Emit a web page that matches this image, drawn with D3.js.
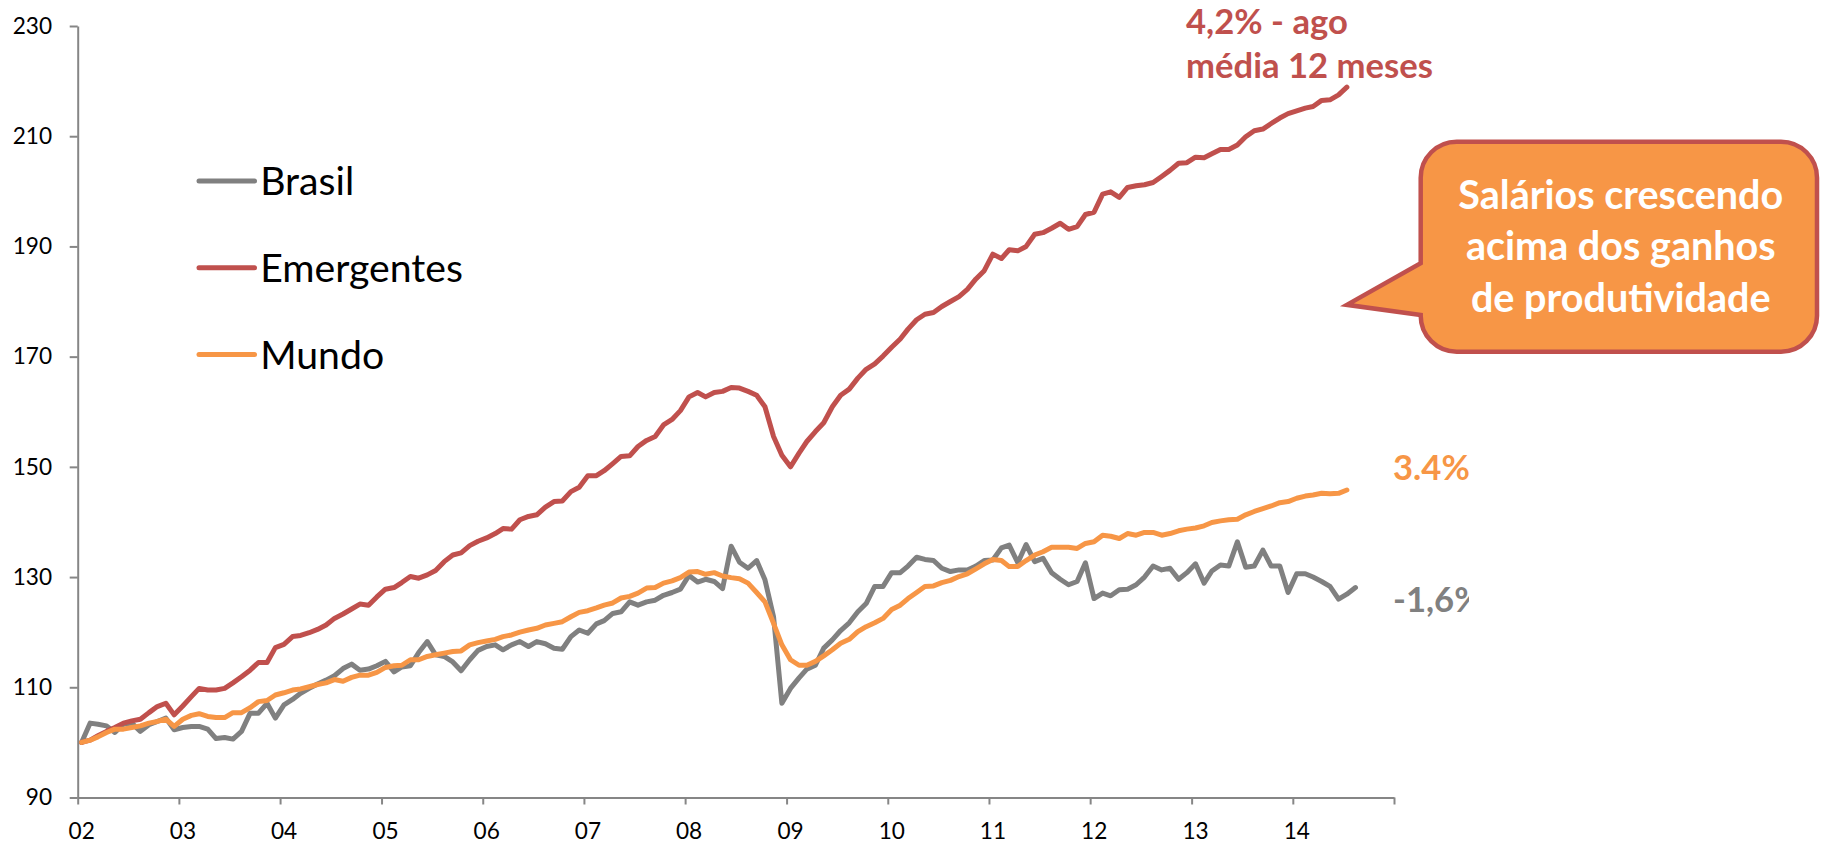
<!DOCTYPE html>
<html><head><meta charset="utf-8">
<script src="https://cdn.jsdelivr.net/npm/d3@7"></script>
<style>
html,body{margin:0;padding:0;background:#fff;}
svg{display:block;font-family:Lato,'Open Sans',sans-serif;}
</style>
</head><body>
<svg id="chart" width="1821" height="846"></svg>
<script>
// ---------------- DATA ----------------
const yearTicks = [2002,2003,2004,2005,2006,2007,2008,2009,2010,2011,2012,2013,2014,2015];
const yTicks = [90,110,130,150,170,190,210,230];
const seriesNames = ["Brasil","Emergentes","Mundo"];
// monthly index values, starting Jan 2002
const brasil = [100.0,103.5,103.3,103.0,101.8,103.3,103.5,102.0,103.2,103.8,104.4,102.3,
102.7,102.9,102.9,102.4,100.7,100.9,100.6,102.0,105.3,105.3,107.1,104.4,
106.8,107.8,108.9,109.8,110.6,111.3,112.1,113.4,114.2,113.1,113.3,113.9,
114.7,112.8,113.7,113.9,116.3,118.3,115.9,115.6,114.6,113.0,115.0,116.7,
117.4,117.7,116.8,117.7,118.3,117.4,118.3,117.9,117.1,116.9,119.2,120.4,
119.8,121.5,122.1,123.4,123.7,125.5,124.9,125.5,125.8,126.7,127.2,127.8,
130.3,129.1,129.6,129.2,127.9,135.6,132.7,131.6,133.0,129.5,122.8,107.1,
109.8,111.7,113.3,114.0,117.1,118.6,120.3,121.7,123.7,125.2,128.3,128.3,
130.8,130.8,132.0,133.6,133.2,133.0,131.6,131.0,131.3,131.3,132.0,133.0,
133.1,135.3,135.8,132.6,135.9,132.8,133.4,130.8,129.6,128.6,129.2,132.6,
126.1,127.1,126.6,127.7,127.8,128.6,130.0,132.0,131.3,131.6,129.6,130.8,
132.4,128.9,131.1,132.2,132.0,136.4,131.8,132.0,134.9,132.0,132.0,127.2,
130.6,130.6,130.0,129.2,128.3,126.0,126.9,128.1];
const emergentes = [100.0,100.4,101.2,102.0,102.7,103.5,103.9,104.2,105.4,106.5,107.1,105.0,
106.6,108.3,109.8,109.5,109.5,109.8,110.8,111.9,113.1,114.5,114.5,117.2,
117.8,119.2,119.4,119.9,120.5,121.3,122.5,123.3,124.2,125.1,124.9,126.4,
127.8,128.1,129.0,130.1,129.8,130.4,131.2,132.8,134.0,134.4,135.7,136.5,
137.1,137.9,138.8,138.7,140.4,141.0,141.3,142.7,143.7,143.8,145.5,146.3,
148.4,148.4,149.3,150.6,151.9,152.0,153.7,154.8,155.5,157.6,158.6,160.2,
162.7,163.5,162.7,163.5,163.7,164.4,164.3,163.7,163.0,160.9,155.5,152.1,
150.0,152.5,154.6,156.4,158.0,160.9,163.0,164.1,166.1,167.7,168.7,170.1,
171.7,173.2,175.0,176.7,177.7,178.0,179.1,180.0,180.9,182.2,184.1,185.6,
188.6,187.8,189.4,189.2,190.0,192.2,192.5,193.3,194.2,193.1,193.6,195.8,
196.2,199.5,199.9,198.9,200.7,201.0,201.2,201.6,202.7,203.8,205.1,205.2,
206.2,206.1,206.8,207.6,207.6,208.4,209.9,211.0,211.3,212.3,213.3,214.1,
214.6,215.1,215.4,216.5,216.6,217.5,218.9];
const mundo = [100.0,100.4,101.0,101.8,102.4,102.4,102.7,103.0,103.5,103.8,104.2,102.9,
104.2,104.9,105.2,104.7,104.5,104.5,105.4,105.4,106.3,107.4,107.6,108.6,
109.0,109.5,109.7,110.1,110.5,110.8,111.4,111.1,111.8,112.2,112.2,112.7,
113.6,113.9,114.0,115.0,115.0,115.6,115.9,116.2,116.5,116.6,117.7,118.1,
118.4,118.7,119.2,119.5,120.0,120.4,120.7,121.3,121.6,121.9,122.8,123.6,
123.9,124.4,124.9,125.3,126.2,126.5,127.1,128.0,128.1,128.9,129.3,129.9,
130.9,131.0,130.5,130.8,130.2,129.9,129.7,128.9,127.2,125.5,121.6,117.7,
115.0,114.0,114.0,114.7,115.7,116.8,118.0,118.7,120.1,121.0,121.7,122.5,
124.1,124.9,126.1,127.2,128.3,128.4,129.0,129.4,130.1,130.6,131.5,132.4,
133.2,133.0,131.9,131.9,133.0,134.0,134.6,135.4,135.4,135.4,135.2,136.1,
136.4,137.6,137.4,137.0,137.9,137.6,138.1,138.1,137.6,137.9,138.4,138.7,
138.9,139.3,139.9,140.2,140.4,140.5,141.3,141.9,142.4,142.9,143.5,143.7,
144.3,144.7,144.9,145.2,145.1,145.2,145.8];
const emergentesNote = ["4,2% - ago","média 12 meses"];
const mundoNote = "3.4%";
const brasilNote = "-1,6%";
const calloutLines = ["Salários crescendo","acima dos ganhos","de produtividade"];

// ---------------- STYLE ----------------
const colors = {Brasil:"#808080", Emergentes:"#C0504D", Mundo:"#F79646"};
const axisColor = "#868686";

const svg = d3.select("#chart");
const x = d3.scaleTime().domain([new Date(2002,0,1), new Date(2015,0,1)]).range([77.7, 1394]);
const y = d3.scaleLinear().domain([90,230]).range([797.5, 26]);
const monthDate = i => new Date(2002, i, 15);

function fitSize(text, bold, target){
  const t = svg.append("text").attr("font-size",100).attr("font-weight",bold?"bold":"normal").text(text);
  const w = t.node().getComputedTextLength();
  t.remove();
  return 100*target/w;
}

// axes
const axisFs = fitSize("230", false, 39.4);
const gx = svg.append("g").attr("transform",`translate(0,${y(90)})`)
  .call(d3.axisBottom(x).tickValues(yearTicks.map(v=>new Date(v,0,1)))
    .tickSize(7).tickSizeOuter(0)
    .tickFormat(d => d.getFullYear()<2015 ? d3.timeFormat("%y")(d) : ""));
const gy = svg.append("g").attr("transform",`translate(${x.range()[0]},0)`)
  .call(d3.axisLeft(y).tickValues(yTicks).tickSize(8).tickSizeOuter(0).tickPadding(17.7));
[gx,gy].forEach(g=>{
  g.select(".domain").attr("stroke",axisColor).attr("stroke-width",2);
  g.selectAll(".tick line").attr("stroke",axisColor).attr("stroke-width",2);
  g.selectAll("text").attr("fill","#000").attr("font-size",axisFs).attr("font-family","Lato");
});
gx.selectAll("text").attr("y",41.5).attr("dy",0).attr("dx",3.5);

// lines
const data = {Brasil:brasil, Emergentes:emergentes, Mundo:mundo};
const line = d3.line().x((d,i)=>x(monthDate(i))).y(d=>y(d));
seriesNames.forEach(n=>{
  svg.append("path").datum(data[n]).attr("d",line)
    .attr("fill","none").attr("stroke",colors[n]).attr("stroke-width",5)
    .attr("stroke-linejoin","round").attr("stroke-linecap","round");
});

// legend
const legFs = fitSize("Emergentes", false, 202.8);
const legY = [181, 267.7, 354.6];
seriesNames.forEach((n,i)=>{
  svg.append("line").attr("x1",199).attr("x2",254.5).attr("y1",legY[i]).attr("y2",legY[i])
    .attr("stroke",colors[n]).attr("stroke-width",5).attr("stroke-linecap","round");
  svg.append("text").attr("x",260.2).attr("y",legY[i]+14.4).attr("font-size",legFs)
    .attr("fill","#000").text(n);
});

// end annotations
const noteFs = fitSize(emergentesNote[1], true, 247);
emergentesNote.forEach((t,i)=>{
  svg.append("text").attr("x",1186).attr("y",[33.5,77.7][i]).attr("font-size",noteFs)
    .attr("font-weight","bold").attr("fill",colors.Emergentes).text(t);
});
svg.append("text").attr("x",1393).attr("y",480.3).attr("font-size",noteFs)
  .attr("font-weight","bold").attr("fill",colors.Mundo).text(mundoNote);
svg.append("clipPath").attr("id","clipNote").append("rect")
  .attr("x",1380).attr("y",560).attr("width",89).attr("height",80);
svg.append("text").attr("x",1393).attr("y",611.5).attr("font-size",noteFs)
  .attr("clip-path","url(#clipNote)")
  .attr("font-weight","bold").attr("fill",colors.Brasil).text(brasilNote);

// callout
const L=1420.7, R=1817, T=141.7, B=351.7, r=36;
const tipX = x(monthDate(150)), tipY = y(179.4);
const p = d3.path();
p.moveTo(L+r,T); p.lineTo(R-r,T); p.arcTo(R,T,R,T+r,r); p.lineTo(R,B-r); p.arcTo(R,B,R-r,B,r);
p.lineTo(L+r,B); p.arcTo(L,B,L,B-r,r); p.lineTo(L,315); p.lineTo(tipX,tipY); p.lineTo(L,263.3);
p.lineTo(L,T+r); p.arcTo(L,T,L+r,T,r); p.closePath();
svg.append("path").attr("d",p.toString()).attr("fill","#F79646").attr("stroke","#C0504D")
  .attr("stroke-width",4.5).attr("stroke-linejoin","miter");
const callFs = fitSize(calloutLines[0], true, 325);
calloutLines.forEach((t,i)=>{
  svg.append("text").attr("x",1620.8).attr("y",[209.3,259.8,311.7][i]).attr("text-anchor","middle")
    .attr("font-size",callFs).attr("font-weight","bold").attr("fill","#fff").text(t);
});
</script>
</body></html>
